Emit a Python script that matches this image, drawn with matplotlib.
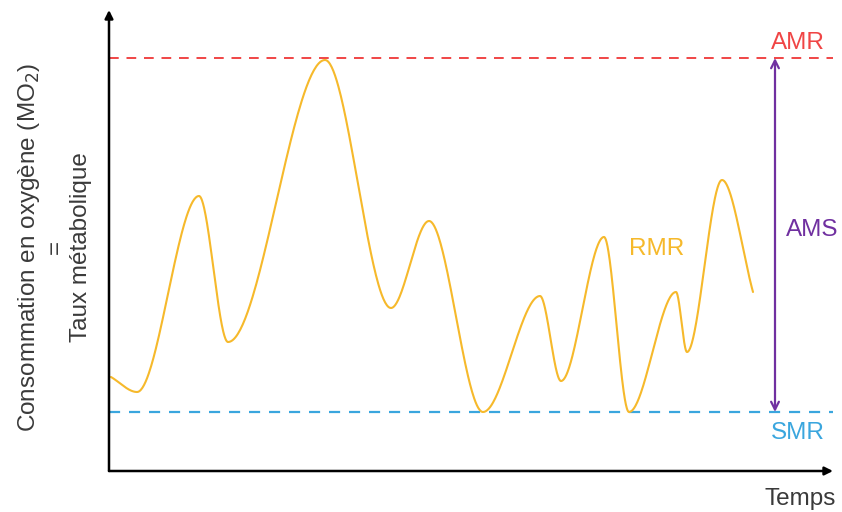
import numpy as np
import matplotlib
matplotlib.use("Agg")
import matplotlib.pyplot as plt

# Curve knots (time, MO2) in arbitrary units
time = [2, 28, 90, 119, 216, 282, 320, 374, 431, 452, 495, 520, 567, 578, 613, 644]
mo2 = [94, 79, 275, 129, 411, 163, 250, 59, 175, 90, 234, 59, 179, 119, 291, 179]
smr = 59
amr = 413
labels = {"AMR": "AMR", "SMR": "SMR", "AMS": "AMS", "RMR": "RMR"}
xlabel = "Temps"
ylabel = "Consommation en oxygène (MO$_2$)\n=\nTaux métabolique"

# Cubic Hermite interpolation: zero slope at interior extrema, secant at ends
t = np.array(time, float)
v = np.array(mo2, float)
m = np.zeros_like(v)
m[0] = (v[1] - v[0]) / (t[1] - t[0])
m[-1] = (v[-1] - v[-2]) / (t[-1] - t[-2])
xs, ys = [], []
for i in range(len(t) - 1):
    h = t[i + 1] - t[i]
    s = np.linspace(0, 1, 80)
    h00 = 2 * s**3 - 3 * s**2 + 1
    h10 = s**3 - 2 * s**2 + s
    h01 = -2 * s**3 + 3 * s**2
    h11 = s**3 - s**2
    xs.append(t[i] + s * h)
    ys.append(h00 * v[i] + h10 * h * m[i] + h01 * v[i + 1] + h11 * h * m[i + 1])
xs = np.concatenate(xs)
ys = np.concatenate(ys)

plt.rcParams['font.family'] = ['Liberation Sans', 'DejaVu Sans']
fig = plt.figure(figsize=(8.42, 5.12), dpi=100)
W, H = 842, 512
ax = fig.add_axes([109 / W, (512 - 471) / H, (835 - 109) / W, (471 - 8) / H])
ax.set_xlim(0, 726)
ax.set_ylim(0, 463)
ax.axis("off")

text_col = "#3a3a3a"
red = "#F04545"
blue = "#3AA6DE"
yellow = "#F6B92B"
purple = "#7030A0"
fs = 17.5

# axes with arrows
ax.annotate("", xy=(724, 0), xytext=(0, 0),
            arrowprops=dict(arrowstyle="-|>", color="black", lw=1.8,
                            mutation_scale=12, shrinkA=0, shrinkB=0))
ax.annotate("", xy=(0, 461), xytext=(0, 0),
            arrowprops=dict(arrowstyle="-|>", color="black", lw=1.8,
                            mutation_scale=12, shrinkA=0, shrinkB=0))

ax.plot([0, 724], [amr, amr], color=red, lw=1.4, dashes=(5, 4))
ax.plot([0, 724], [smr, smr], color=blue, lw=1.6, dashes=(5, 4))
ax.plot(xs, ys, color=yellow, lw=1.5, solid_capstyle="round")

ax.annotate("", xy=(666, amr), xytext=(666, smr),
            arrowprops=dict(arrowstyle="<->", color=purple, lw=1.6,
                            mutation_scale=14, shrinkA=0, shrinkB=0))

ax.text(689, amr + 15, labels["AMR"], color=red, fontsize=fs, ha="center", va="center")
ax.text(689, smr - 21, labels["SMR"], color=blue, fontsize=fs, ha="center", va="center")
ax.text(703, 241, labels["AMS"], color=purple, fontsize=fs, ha="center", va="center")
ax.text(548, 222, labels["RMR"], color=yellow, fontsize=fs, ha="center", va="center")

fig.text(800 / W, 1 - 499 / H, xlabel, color=text_col, fontsize=fs, ha="center", va="center")
fig.text(54 / W, 1 - 247 / H, ylabel, color=text_col, fontsize=fs, ha="center", va="center",
         rotation=90, multialignment="center", linespacing=1.18)

fig.savefig("out.png", dpi=100)
